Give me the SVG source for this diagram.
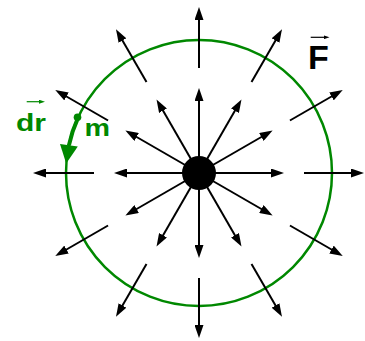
<svg xmlns="http://www.w3.org/2000/svg" width="365" height="341" viewBox="0 0 365 341">
<defs>
<marker id="ah" viewBox="0 0 13 9" refX="7" refY="4.5" markerWidth="13" markerHeight="9" markerUnits="userSpaceOnUse" orient="auto">
<path d="M0,0 L13,4.5 L0,9 Z" fill="#000"/>
</marker>
<marker id="vb" viewBox="0 0 6 4" refX="1" refY="2" markerWidth="6" markerHeight="4" markerUnits="userSpaceOnUse" orient="auto">
<path d="M0,0 L6,2 L0,4 Z" fill="#000"/>
</marker>
<marker id="vg" viewBox="0 0 6 4" refX="1" refY="2" markerWidth="6" markerHeight="4" markerUnits="userSpaceOnUse" orient="auto">
<path d="M0,0 L6,2 L0,4 Z" fill="#008800"/>
</marker>
</defs>
<style>
.f{stroke:#000;stroke-width:2;fill:none;marker-end:url(#ah)}
.lbl{font-family:"Liberation Sans",Arial,sans-serif;font-weight:bold}
</style>
<g id="path-circle">
<circle cx="199" cy="173" r="133" fill="none" stroke="#008800" stroke-width="2.5"/>
</g>
<g id="connectors">
<line class="f" x1="199" y1="173" x2="278" y2="173"/>
<line class="f" x1="199" y1="173" x2="267.42" y2="133.5"/>
<line class="f" x1="199" y1="173" x2="238.5" y2="104.58"/>
<line class="f" x1="199" y1="173" x2="199" y2="94"/>
<line class="f" x1="199" y1="173" x2="159.5" y2="104.58"/>
<line class="f" x1="199" y1="173" x2="130.58" y2="133.5"/>
<line class="f" x1="199" y1="173" x2="120" y2="173"/>
<line class="f" x1="199" y1="173" x2="130.58" y2="212.5"/>
<line class="f" x1="199" y1="173" x2="159.5" y2="241.42"/>
<line class="f" x1="199" y1="173" x2="199" y2="252"/>
<line class="f" x1="199" y1="173" x2="238.5" y2="241.42"/>
<line class="f" x1="199" y1="173" x2="267.42" y2="212.5"/>
<line class="f" x1="304" y1="173" x2="358" y2="173"/>
<line class="f" x1="289.93" y1="120.5" x2="337.56" y2="93"/>
<line class="f" x1="251.5" y1="82.07" x2="279" y2="34.44"/>
<line class="f" x1="199" y1="68" x2="199" y2="13"/>
<line class="f" x1="146.5" y1="82.07" x2="119" y2="34.44"/>
<line class="f" x1="108.07" y1="120.5" x2="60.44" y2="93"/>
<line class="f" x1="94" y1="173" x2="39" y2="173"/>
<line class="f" x1="108.07" y1="225.5" x2="60.44" y2="253"/>
<line class="f" x1="146.5" y1="263.93" x2="119" y2="311.56"/>
<line class="f" x1="199" y1="278" x2="199" y2="332"/>
<line class="f" x1="251.5" y1="263.93" x2="279" y2="311.56"/>
<line class="f" x1="289.93" y1="225.5" x2="337.56" y2="253"/>
</g>
<g id="mass-source">
<circle cx="199" cy="173" r="17" fill="#000"/>
</g>
<g id="dr-arrow">
<path d="M78.1,117.6 A133,133 0 0 0 68.9,145.3" fill="none" stroke="#008800" stroke-width="4"/>
<path d="M77.8,146.6 L66.2,163.5 L60,144 Z" fill="#008800"/>
</g>
<g id="mass-m">
<circle cx="77.5" cy="117.3" r="3.8" fill="#008800"/>
<text class="lbl" x="84.5" y="136" font-size="24" textLength="25.5" lengthAdjust="spacingAndGlyphs" fill="#008800">m</text>
</g>
<g id="label-dr">
<text class="lbl" x="16" y="131" font-size="24" textLength="30" lengthAdjust="spacingAndGlyphs" fill="#008800">dr</text>
<line x1="26.7" y1="101.7" x2="40" y2="101.7" stroke="#008800" stroke-width="1.2" marker-end="url(#vg)"/>
</g>
<g id="label-F">
<text class="lbl" x="308" y="69.3" font-size="34" fill="#000">F</text>
<line x1="310.7" y1="37.3" x2="324.5" y2="37.3" stroke="#000" stroke-width="1.2" marker-end="url(#vb)"/>
</g>
</svg>
